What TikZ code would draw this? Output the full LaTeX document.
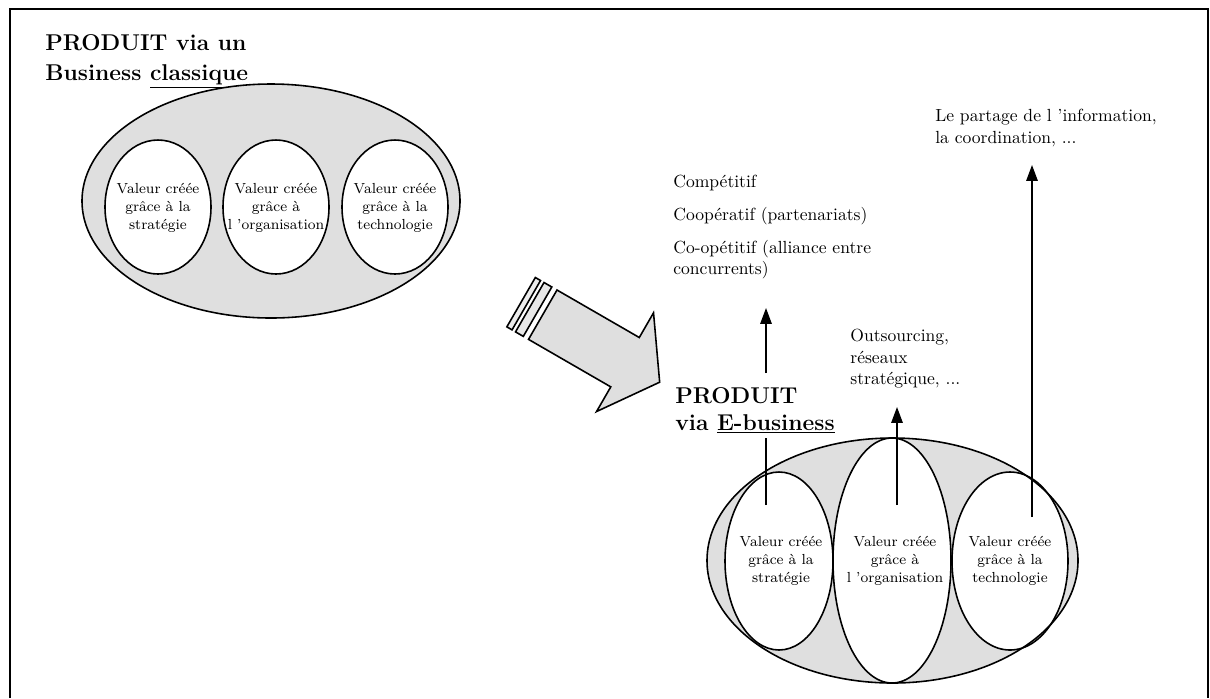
\documentclass[tikz,border=0pt]{standalone}
\usepackage{fontspec}
\usetikzlibrary{arrows.meta}
\begin{document}
\begin{tikzpicture}[x=0.02cm,y=-0.02cm,
  outline/.style={draw=black,line width=0.9pt},
  shade/.style={fill=gray!25},
  hole/.style={fill=white},
  val/.style={font=\fontsize{8.3}{10.2}\selectfont,align=center,inner sep=0pt},
  headtext/.style={font=\fontsize{13}{17}\selectfont\bfseries,align=left,anchor=north west,inner sep=0pt},
  note/.style={font=\fontsize{10}{12.2}\selectfont,align=left,anchor=north west,inner sep=0pt},
  stem/.style={line width=0.75pt},
  up/.style={stem,-{Triangle[length=9pt,width=6.5pt]}}]
\useasboundingbox (0,0) rectangle (1210,698);

% frame
\draw[line width=1.2pt] (10,698) -- (10,9) -- (1208,9) -- (1208,698);

% ---- classic business ----
\node[headtext] (tC) at (45,34) {PRODUIT via un\\Business \underline{classique}};
\fill[shade] (271,201) ellipse [x radius=189, y radius=117];
\fill[hole] (158,207) ellipse [x radius=53, y radius=67];
\fill[hole] (276,207) ellipse [x radius=53, y radius=67];
\fill[hole] (395,207) ellipse [x radius=53, y radius=67];
\draw[outline] (271,201) ellipse [x radius=189, y radius=117];
\draw[outline] (158,207) ellipse [x radius=53, y radius=67];
\draw[outline] (276,207) ellipse [x radius=53, y radius=67];
\draw[outline] (395,207) ellipse [x radius=53, y radius=67];
\node[val] (cS) at (158,208) {Valeur créée\\grâce à la\\stratégie};
\node[val] (cO) at (276,208) {Valeur créée\\grâce à\\l ’organisation};
\node[val] (cT) at (395,208) {Valeur créée\\grâce à la\\technologie};

% ---- transition arrow ----
\begin{scope}[shift={(557,290)}, rotate=-30]
  \filldraw[fill=gray!15, outline] (-25,0) rectangle (-19,57);
  \filldraw[fill=gray!18, outline] (-15,0) rectangle (-6,57);
  \filldraw[shade, outline] (0,0) -- (95,0) -- (95,-28.5) -- (135,28.5)
    -- (95,85.5) -- (95,57) -- (0,57) -- cycle;
\end{scope}

% ---- e-business ----
\fill[shade] (892.5,560.5) ellipse [x radius=185.5, y radius=122.5];
\fill[hole] (779,561) ellipse [x radius=54, y radius=89];
\fill[hole] (892,560.5) ellipse [x radius=59, y radius=122.5];
\fill[hole] (1010,561) ellipse [x radius=58, y radius=89];
\draw[outline] (892.5,560.5) ellipse [x radius=185.5, y radius=122.5];
\draw[outline] (779,561) ellipse [x radius=54, y radius=89];
\draw[outline] (892,560.5) ellipse [x radius=59, y radius=122.5];
\draw[outline] (1010,561) ellipse [x radius=58, y radius=89];
\node[val] (eS) at (781,561) {Valeur créée\\grâce à la\\stratégie};
\node[val] (eO) at (895,561) {Valeur créée\\grâce à\\l ’organisation};
\node[val] (eT) at (1010,561) {Valeur créée\\grâce à la\\technologie};

\node[headtext, font=\fontsize{13}{15.3}\selectfont\bfseries] (tE) at (675,387)
  {PRODUIT\\via \underline{E-business}};

% ---- outcomes ----
\node[note] (n1) at (673,175) {Compétitif\\[6.5pt]Coopératif (partenariats)\\[6.5pt]Co-opétitif (alliance entre\\concurrents)};
\node[note] (n2) at (850,329) {Outsourcing,\\réseaux\\stratégique, ...};
\node[note] (n3) at (935,109) {Le partage de l ’information,\\la coordination, ...};

\coordinate (s1) at (766,505);
\coordinate (b1) at (766,438);
\coordinate (b2) at (766,373);
\coordinate (e1) at (766,308);
\coordinate (s2) at (897,505);
\coordinate (e2) at (897,407);
\coordinate (s3) at (1032,517);
\coordinate (e3) at (1032,165);
\draw[stem] (s1) -- (b1);
\draw[up] (b2) -- (e1);
\draw[up] (s2) -- (e2);
\draw[up] (s3) -- (e3);
\end{tikzpicture}
\end{document}
